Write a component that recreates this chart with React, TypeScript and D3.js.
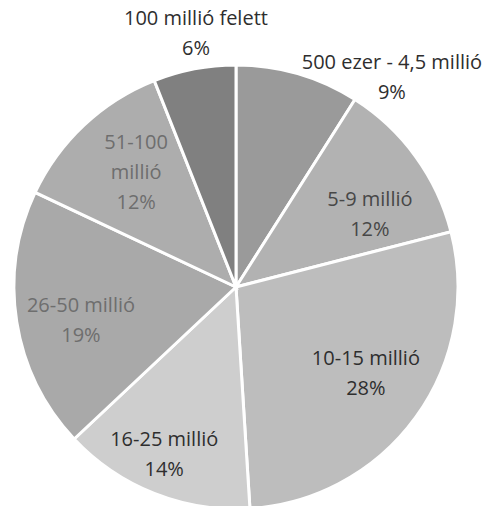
import React from "react";
import * as d3 from "d3";

const categories = [
  "500 ezer - 4,5 millió",
  "5-9 millió",
  "10-15 millió",
  "16-25 millió",
  "26-50 millió",
  "51-100 millió",
  "100 millió felett",
];
const values = [9, 12, 28, 14, 19, 12, 6];
const percentLabels = ["9%", "12%", "28%", "14%", "19%", "12%", "6%"];
const labelLines = [
  ["500 ezer - 4,5 millió", "9%"],
  ["5-9 millió", "12%"],
  ["10-15 millió", "28%"],
  ["16-25 millió", "14%"],
  ["26-50 millió", "19%"],
  ["51-100", "millió", "12%"],
  ["100 millió felett", "6%"],
];
const sliceColors = ["#9a9a9a", "#b2b2b2", "#bdbdbd", "#cecece", "#a9a9a9", "#adadad", "#808080"];
const textColors = ["#2e2e2e", "#474747", "#2e2e2e", "#2e2e2e", "#6e6e6e", "#6e6e6e", "#2e2e2e"];
// label radius factor (relative to outer radius) per slice; >1 = outside
const labelRadiusFactor = [1.178, 0.687, 0.702, 0.819, 0.714, 0.686, 1.158];
const labelAngleShift = [0.356, 0.129, -0.043, 0.029, -0.052, 0.039, 0.032];

export default function App() {
  const width = 502;
  const height = 506;
  const cx = 236;
  const cy = 287;
  const r = 222;
  const pie = d3.pie<number>().sort(null).value((d) => d)(values);
  const arc = d3.arc<d3.PieArcDatum<number>>().innerRadius(0).outerRadius(r);
  const lineH = 30;
  return (
    <svg width={width} height={height} style={{ position: "absolute", left: 0, top: 0 }}>
      <rect width={width} height={height} fill="#ffffff" />
      <g transform={`translate(${cx},${cy})`}>
        {pie.map((p, i) => (
          <path key={categories[i]} d={arc(p) || ""} fill={sliceColors[i]} stroke="#ffffff" strokeWidth={3} />
        ))}
        {pie.map((p, i) => {
          const a = (p.startAngle + p.endAngle) / 2 + labelAngleShift[i];
          const lr = r * labelRadiusFactor[i];
          const x = Math.sin(a) * lr;
          const y = -Math.cos(a) * lr;
          const lines = labelLines[i];
          const y0 = y - ((lines.length - 1) * lineH) / 2;
          return (
            <text
              key={"t" + i}
              textAnchor="middle"
              fontFamily="'Open Sans', sans-serif"
              fontSize={20}
              fill={textColors[i]}
            >
              {lines.map((l, j) => (
                <tspan key={j} x={x} y={y0 + j * lineH} dy="0.35em">
                  {l}
                </tspan>
              ))}
              <title>{percentLabels[i]}</title>
            </text>
          );
        })}
      </g>
    </svg>
  );
}
